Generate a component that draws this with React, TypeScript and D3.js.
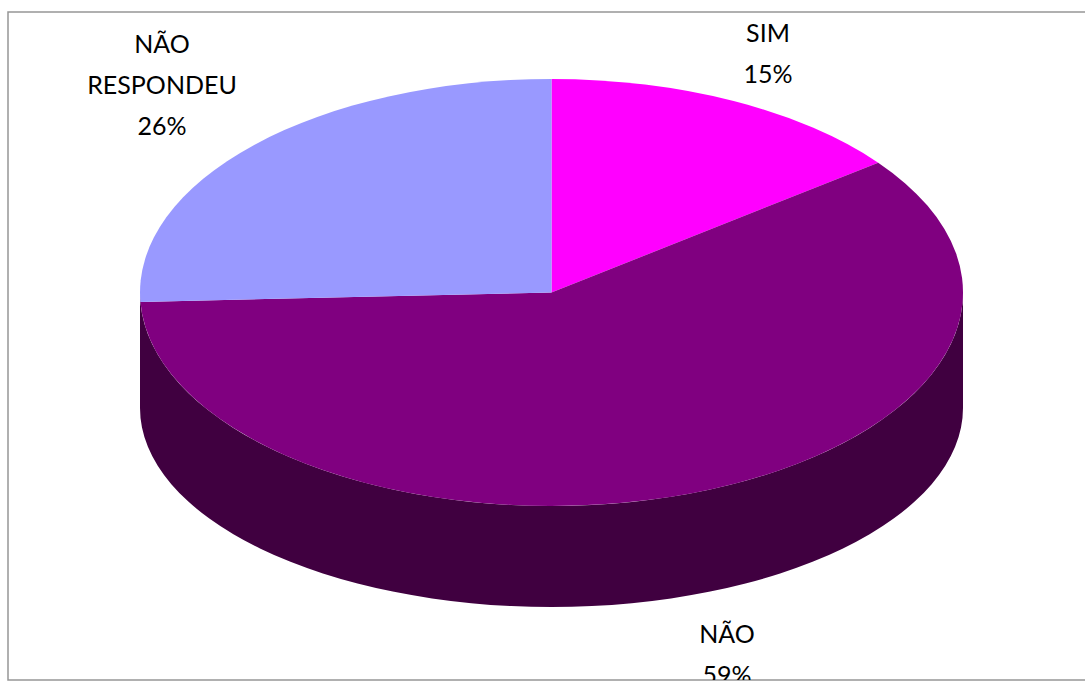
import { useEffect, useRef } from "react";
import * as d3 from "d3";

// clockwise from the top; shares measured on the picture, the 3D view shifts them a little from the printed labels
const categories = ["SIM", "NÃO", "NÃO RESPONDEU"];
const sliceShares = [14.6, 59.7, 25.7];
const percentLabels = ["15%", "59%", "26%"];
const sliceColors = ["#FF00FF", "#800080", "#9999FF"];
const sideColor = "#400040";

const labelLines = [["SIM", "15%"], ["NÃO", "59%"], ["NÃO", "RESPONDEU", "26%"]];
const labelCenters = [
  [768, 33],
  [727, 634],
  [162, 44],
];

const App = () => {
  const svgRef = useRef<SVGSVGElement>(null);

  useEffect(() => {
    const width = 1085;
    const height = 682;
    const cx = 551.5;
    const cy = 292.5;
    const rx = 411.5;
    const ry = 213.5;
    // bottom rim is flatter than the top one (perspective)
    const baseCy = 408;
    const baseRy = 199;
    const lineHeight = 41;

    const svg = d3.select(svgRef.current);
    svg.selectAll("*").remove();

    svg.append("rect").attr("width", width).attr("height", height).attr("fill", "#fff");

    // frame, runs off the right edge
    const frame = { left: 8, top: 12, bottom: 680 };
    svg
      .append("defs")
      .append("clipPath")
      .attr("id", "frame-clip")
      .append("rect")
      .attr("x", frame.left)
      .attr("y", frame.top)
      .attr("width", width - frame.left)
      .attr("height", frame.bottom - frame.top);

    svg
      .append("path")
      .attr("d", `M${width},${frame.top}H${frame.left}V${frame.bottom}H${width}`)
      .attr("fill", "none")
      .attr("stroke", "#969696")
      .attr("stroke-width", 1.5);

    // cylinder wall
    svg
      .append("path")
      .attr(
        "d",
        `M${cx - rx},${cy}A${rx},${ry} 0 0 0 ${cx + rx},${cy}` +
          `V${baseCy}A${rx},${baseRy} 0 0 1 ${cx - rx},${baseCy}Z`
      )
      .attr("fill", sideColor);

    // slices, drawn on a unit circle and then flattened
    const pie = d3.pie<number>().sort(null).startAngle(0).endAngle(2 * Math.PI);
    const arc = d3.arc<d3.PieArcDatum<number>>().innerRadius(0).outerRadius(1);

    svg
      .append("g")
      .attr("transform", `translate(${cx},${cy}) scale(${rx},${ry})`)
      .selectAll("path")
      .data(pie(sliceShares))
      .enter()
      .append("path")
      .attr("d", arc)
      .attr("fill", (_, i) => sliceColors[i]);

    // labels
    const labels = svg
      .append("g")
      .attr("clip-path", "url(#frame-clip)")
      .attr("font-family", "Lato, 'Open Sans', sans-serif")
      .attr("font-size", 25)
      .attr("fill", "#000")
      .attr("text-anchor", "middle");

    labelLines.forEach((lines, i) => {
      const text = labels
        .append("text")
        .attr("data-category", categories[i])
        .attr("data-percent", percentLabels[i]);
      lines.forEach((line, j) => {
        text
          .append("tspan")
          .attr("x", labelCenters[i][0])
          .attr("y", labelCenters[i][1] + j * lineHeight)
          .attr("dy", "0.35em")
          .text(line);
      });
    });
  }, []);

  return (
    <svg
      ref={svgRef}
      width={1085}
      height={682}
      style={{ position: "absolute", left: 0, top: 0, display: "block" }}
    />
  );
};

export default App;
